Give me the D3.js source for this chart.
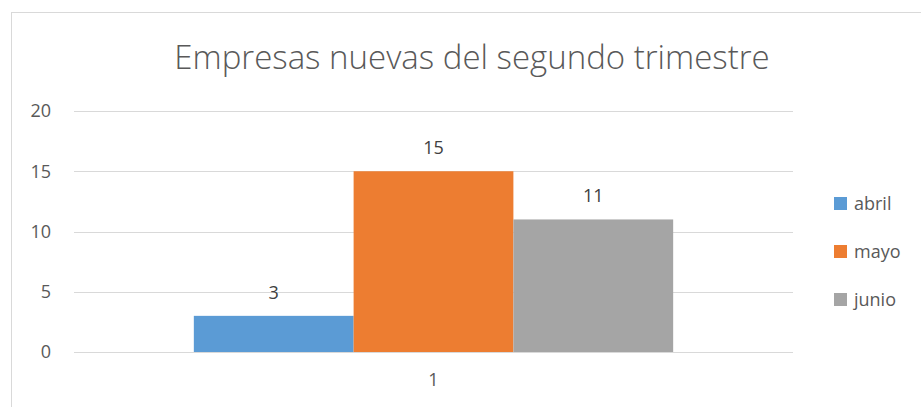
<!DOCTYPE html>
<html>
<head>
<meta charset="utf-8">
<script src="https://cdn.jsdelivr.net/npm/d3@7/dist/d3.min.js"></script>
<style>
  html, body { margin: 0; padding: 0; background: #fff; }
  svg { display: block; font-family: "Open Sans", "Liberation Sans", sans-serif; }
</style>
</head>
<body>
<svg id="chart" width="921" height="407"></svg>
<script>
const title = "Empresas nuevas del segundo trimestre";
const categories = ["1"];
const seriesNames = ["abril", "mayo", "junio"];
const seriesValues = [3, 15, 11];
const seriesColors = ["#5B9BD5", "#ED7D31", "#A5A5A5"];
const yTicks = [0, 5, 10, 15, 20];

const svg = d3.select("#chart");
const W = 921, H = 407;
const plot = { left: 74, right: 793, top: 111, bottom: 352 };

// chart area frame
svg.append("rect")
  .attr("x", 11.5).attr("y", 12.5)
  .attr("width", W + 20).attr("height", H + 20)
  .attr("fill", "#fff").attr("stroke", "#D9D9D9").attr("stroke-width", 1);

const y = d3.scaleLinear().domain([0, 20]).range([plot.bottom, plot.top]);
const x0 = d3.scaleBand().domain(categories).range([plot.left, plot.right]).paddingInner(0).paddingOuter(0.25);
const x1 = d3.scaleBand().domain(seriesNames).range([0, x0.bandwidth()]).padding(0);

// horizontal gridlines
svg.append("g")
  .selectAll("line")
  .data(yTicks)
  .join("line")
  .attr("x1", plot.left).attr("x2", plot.right)
  .attr("y1", d => Math.round(y(d)) + 0.5).attr("y2", d => Math.round(y(d)) + 0.5)
  .attr("stroke", "#D9D9D9").attr("stroke-width", 1);

// y axis labels
const yAxis = d3.axisLeft(y).tickValues(yTicks).tickSize(0).tickPadding(0);
const gy = svg.append("g").attr("transform", "translate(51,0)").call(yAxis);
gy.select(".domain").remove();
gy.selectAll("text")
  .attr("fill", "#595959").attr("font-size", 18)
  .attr("font-family", "'Open Sans', sans-serif");

// bars
const groups = svg.append("g")
  .selectAll("g")
  .data(categories)
  .join("g")
  .attr("transform", d => `translate(${x0(d)},0)`);

const barData = seriesNames.map((name, i) => ({ name, value: seriesValues[i], color: seriesColors[i] }));

groups.selectAll("rect")
  .data(barData)
  .join("rect")
  .attr("x", d => x1(d.name))
  .attr("width", x1.bandwidth())
  .attr("y", d => y(d.value))
  .attr("height", d => y(0) - y(d.value))
  .attr("fill", d => d.color);

// value labels
groups.selectAll("text.value")
  .data(barData)
  .join("text")
  .attr("class", "value")
  .attr("x", d => x1(d.name) + x1.bandwidth() / 2)
  .attr("y", d => y(d.value) - 17)
  .attr("text-anchor", "middle")
  .attr("fill", "#404040")
  .attr("font-size", 18)
  .text(d => d.value);

// category axis
const xAxis = d3.axisBottom(x0).tickSize(0).tickPadding(0);
const gx = svg.append("g").attr("transform", `translate(0,${plot.bottom + 39})`).call(xAxis);
gx.select(".domain").remove();
gx.selectAll("text")
  .attr("fill", "#595959").attr("font-size", 18)
  .attr("font-family", "'Open Sans', sans-serif")
  .attr("dy", "-0.3em");

// title
svg.append("text")
  .attr("x", 472).attr("y", 69)
  .attr("text-anchor", "middle")
  .attr("fill", "#595959")
  .attr("font-size", 33)
  .attr("font-family", "'Open Sans', sans-serif")
  .attr("font-weight", 300)
  .text(title);

// legend
const legend = svg.append("g")
  .selectAll("g")
  .data(barData)
  .join("g")
  .attr("transform", (d, i) => `translate(834,${197 + i * 48})`);

legend.append("rect")
  .attr("width", 13).attr("height", 13)
  .attr("fill", d => d.color);

legend.append("text")
  .attr("x", 20).attr("y", 12.5)
  .attr("fill", "#595959").attr("font-size", 18)
  .text(d => d.name);
</script>
</body>
</html>
